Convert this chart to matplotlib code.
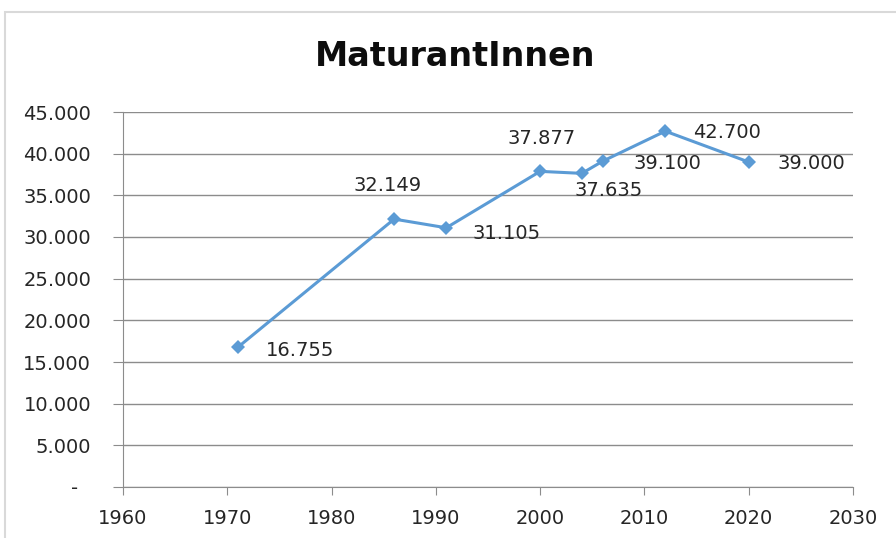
import matplotlib.pyplot as plt
from matplotlib.patches import Rectangle

# data
years = [1971, 1986, 1991, 2000, 2004, 2006, 2012, 2020]
graduates = [16755, 32149, 31105, 37877, 37635, 39100, 42700, 39000]
# label offsets (points) and alignment so labels sit like in the original
label_offsets = [(20, -2), (-5, 24), (19, -4), (1, 24), (19, -12), (22, -2), (20, -1), (21, -1)]
label_align = ['left', 'center', 'left', 'center', 'center', 'left', 'left', 'left']

y_ticks = [0, 5000, 10000, 15000, 20000, 25000, 30000, 35000, 40000, 45000]
x_ticks = [1960, 1970, 1980, 1990, 2000, 2010, 2020, 2030]


def fmt_thousands(v):
    # Excel style: dot as thousands separator, dash for zero
    if v == 0:
        return '-  '
    return f'{v:,.0f}'.replace(',', '.')


fig = plt.figure(figsize=(8.96, 5.38), dpi=100)
# light border of the chart area
fig.patches.append(Rectangle((5 / 896, -0.1), 1.2, (538 - 12) / 538 + 0.1,
                             transform=fig.transFigure, fill=False,
                             edgecolor='#d9d9d9', linewidth=1.5))

ax = fig.add_axes([123 / 896, 51 / 538, 730 / 896, 375 / 538])
ax.plot(years, graduates, color='#5b9bd5', linewidth=2.2,
        marker='D', markersize=7, markeredgewidth=0)

for x, y, off, ha in zip(years, graduates, label_offsets, label_align):
    ax.annotate(fmt_thousands(y), (x, y), xytext=off, textcoords='offset points',
                ha=ha, va='center', fontsize=14, color='#262626')

ax.set_xlim(1960, 2030)
ax.set_ylim(0, 45000)
ax.set_xticks(x_ticks)
ax.set_yticks(y_ticks)
ax.set_yticklabels([fmt_thousands(v) for v in y_ticks], fontsize=14, color='#262626')
ax.set_xticklabels([str(v) for v in x_ticks], fontsize=14, color='#262626')

ax.grid(axis='y', color='#8c8c8c', linewidth=1)
ax.set_axisbelow(True)
for s in ['top', 'right']:
    ax.spines[s].set_visible(False)
for s in ['left', 'bottom']:
    ax.spines[s].set_color('#8c8c8c')
ax.tick_params(axis='y', length=7, color='#8c8c8c', pad=16)
ax.tick_params(axis='x', length=6, color='#8c8c8c', pad=10)

fig.text(455 / 896, 1 - 56 / 538, 'MaturantInnen', ha='center', va='center',
         fontsize=24, fontweight='bold', color='#0d0d0d')

fig.savefig('out.png', dpi=100)
